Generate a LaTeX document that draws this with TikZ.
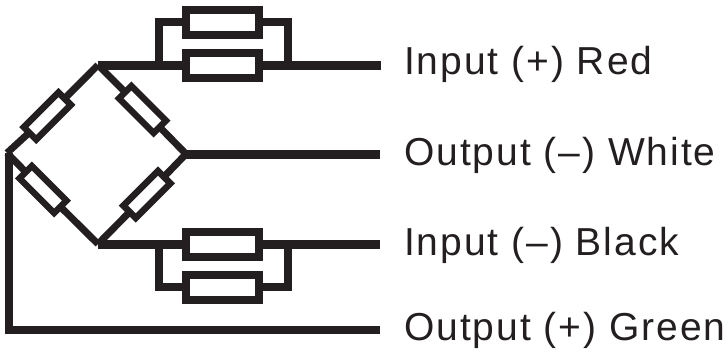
\documentclass[tikz,border=0pt]{standalone}
\usepackage{fontspec}
\setmainfont{Liberation Sans}
\definecolor{wire}{HTML}{231F20}
\tikzset{
  resistor/.style={draw=wire,fill=white,line width=8pt,minimum width=73pt,minimum height=25pt,inner sep=0pt,outer sep=0pt},
  armres/.style={draw=wire,fill=white,line width=6.5pt,minimum width=49pt,minimum height=17.5pt,inner sep=0pt,outer sep=0pt},
  lead/.style={draw=wire,line width=9pt},
  arm/.style={draw=wire,line width=7pt},
  loop/.style={draw=wire,line width=8pt},
  label/.style={anchor=base west,text=wire,inner sep=0pt,font=\fontsize{39pt}{39pt}\selectfont\addfontfeature{LetterSpace=5}}
}
\begin{document}
\begin{tikzpicture}[x=1pt,y=-1pt]
   \useasboundingbox (0,0) rectangle (728,351);
   % bridge corners
   \coordinate (top) at (98,65);
   \coordinate (rgt) at (186,154);
   \coordinate (bot) at (98,244);
   \coordinate (lft) at (7,153);
   % lead ends
   \coordinate (e1) at (381,65);
   \coordinate (e2) at (380,154);
   \coordinate (e3) at (380,244);
   \coordinate (e4) at (380,330);
   \coordinate (c4) at (9,330);
   \coordinate (c5) at (9,153);
   % parallel loops
   \coordinate (a1) at (158.5,65);
   \coordinate (a2) at (158.5,22);
   \coordinate (a3) at (288,22);
   \coordinate (a4) at (288,65);
   \coordinate (b1) at (158.5,244);
   \coordinate (b2) at (158.5,287);
   \coordinate (b3) at (288,287);
   \coordinate (b4) at (288,244);
   \draw[lead] (top) -- (e1);
   \draw[lead] (rgt) -- (e2);
   \draw[lead] (bot) -- (e3);
   \draw[loop] (c5) -- (c4) -- (e4);
   \draw[loop] (a1) -- (a2) -- (a3) -- (a4);
   \draw[loop] (b1) -- (b2) -- (b3) -- (b4);
   % resistors on the leads
   \node[resistor] (r1) at (222.5,22) {};
   \node[resistor] (r2) at (222.5,65) {};
   \node[resistor] (r3) at (222.5,244) {};
   \node[resistor] (r4) at (222.5,287) {};
   % resistors in the arms
   \node[armres,rotate=45] (q1) at (47.3,116) {};
   \node[armres,rotate=-45] (q2) at (142.5,109.5) {};
   \node[armres,rotate=45] (q3) at (146.9,194.5) {};
   \node[armres,rotate=-45] (q4) at (43,189.5) {};
   \draw[arm] (top) -- (q1);
   \draw[arm] (q1) -- (lft);
   \draw[arm] (top) -- (q2);
   \draw[arm] (q2) -- (rgt);
   \draw[arm] (rgt) -- (q3);
   \draw[arm] (q3) -- (bot);
   \draw[arm] (lft) -- (q4);
   \draw[arm] (q4) -- (bot);
   % labels
   \node[label] (t1) at (404,74) {Input (+) Red};
   \node[label] (t2) at (404,165) {Output (–) White};
   \node[label] (t3) at (404,255) {Input (–) Black};
   \node[label] (t4) at (404,340) {Output (+) Green};
\end{tikzpicture}
\end{document}
